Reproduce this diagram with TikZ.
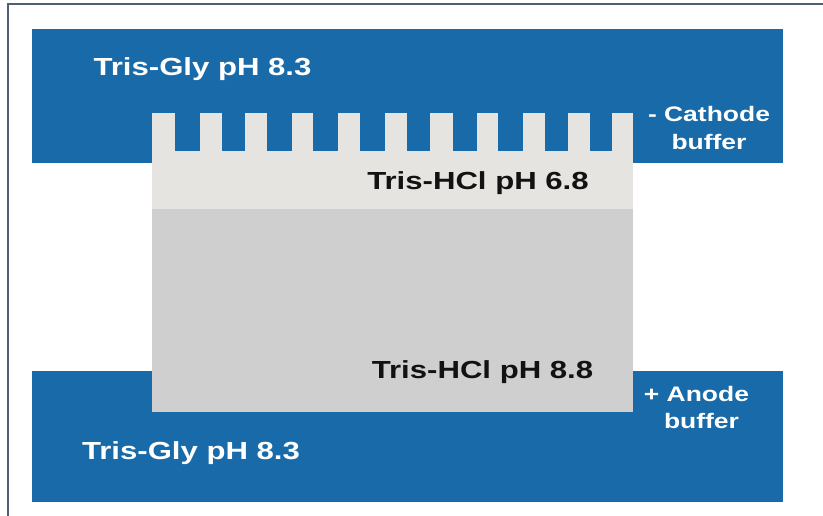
\documentclass[tikz,border=0pt]{standalone}
\usepackage{fontspec}
\setmainfont{Liberation Sans}
\usepackage{graphicx}
\definecolor{bufblue}{RGB}{24,106,168}
\definecolor{stackgel}{RGB}{230,228,224}
\definecolor{resgel}{RGB}{207,207,207}
\definecolor{framecol}{RGB}{80,95,120}
\newcommand{\wide}[1]{\scalebox{1.26}[1]{#1}}
\begin{document}
\begin{tikzpicture}[x=1pt,y=-1pt,
  bigtxt/.style={inner sep=0pt,anchor=base,font=\fontsize{24.7}{28}\selectfont\bfseries},
  smalltxt/.style={inner sep=0pt,anchor=base,font=\fontsize{21}{26}\selectfont\bfseries,text=white}]
\useasboundingbox (0,0) rectangle (823,516);
\fill[white] (0,0) rectangle (823,516);
% frame
\draw[framecol,line width=1.2pt] (8,520) -- (8,4) -- (830,4);
% buffer tanks
\fill[bufblue] (32,29) rectangle (783,163);
\fill[bufblue] (32,371) rectangle (783,502);
% gels
\fill[resgel] (152,209) rectangle (633,412);
\fill[stackgel] (152,113) rectangle (633,209);
% comb wells (gaps between teeth)
\foreach \a/\b in {175/200,222/245,267/292,313/338,360/385,407/430,453/477,498/523,545/568,590/612}
  \fill[bufblue] (\a,112) rectangle (\b,151);
% labels
\node[bigtxt,text=white] (topbuf) at (202.5,76) {\wide{Tris-Gly pH 8.3}};
\node[bigtxt,text=black!93] (stack) at (478,189.3) {\wide{Tris-HCl pH 6.8}};
\node[bigtxt,text=black!93] (resolv) at (482.5,378.3) {\wide{Tris-HCl pH 8.8}};
\node[bigtxt,text=white] (botbuf) at (191,459.3) {\wide{Tris-Gly pH 8.3}};
\node[smalltxt] (cath1) at (709,121.7) {\wide{- Cathode}};
\node[smalltxt] (cath2) at (709,150) {\wide{buffer}};
\node[smalltxt] (anod1) at (696.5,401) {\wide{+ Anode}};
\node[smalltxt] (anod2) at (701.5,428) {\wide{buffer}};
\end{tikzpicture}
\end{document}
